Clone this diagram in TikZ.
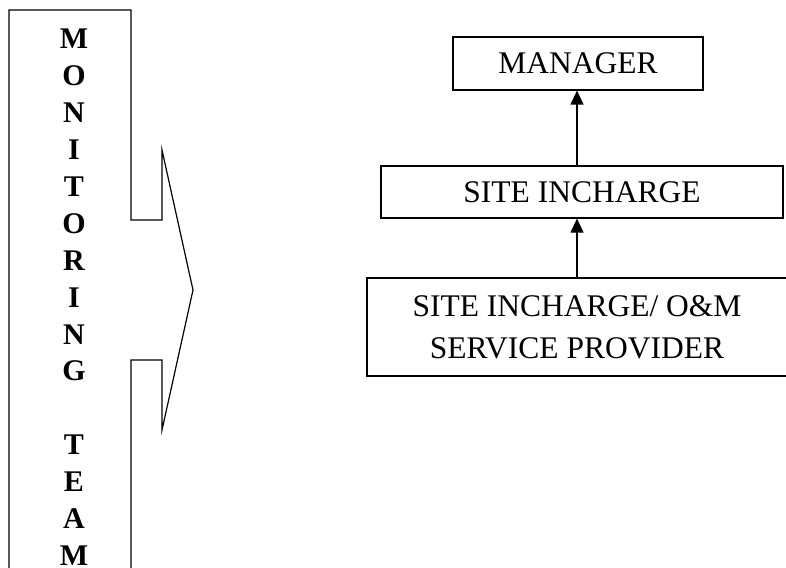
\documentclass[tikz,border=0pt]{standalone}
\usepackage{fontspec}
\setmainfont{Liberation Serif}
\usetikzlibrary{arrows.meta,positioning}

\begin{document}
\begin{tikzpicture}[x=0.5pt, y=-0.5pt, line width=0.6pt,
    box/.style={draw, inner sep=0pt, align=center, font=\fontsize{15.75}{21}\selectfont},
    letter/.style={inner sep=0pt, font=\fontsize{15}{18}\selectfont\bfseries},
    up/.style={-{Triangle[width=6.5pt,length=7pt]}}]
    \useasboundingbox (0,0) rectangle (786,567);
    \clip (0,0) rectangle (786,567);
    % team column with the notched arrow
    \draw (9,590) -- (9,10) -- (131,10) -- (131,220) -- (162,220) -- (162,150)
        -- (193,290) -- (162,430) -- (162,360) -- (131,360) -- (131,590);
    \foreach \i/\ch in {0/M,1/O,2/N,3/I,4/T,5/O,6/R,7/I,8/N,9/G,11/T,12/E,13/A,14/M}
        \node[letter] (l\i) at (74,{39+36.9*\i}) {\ch};
    % reporting chain
    \node[box, minimum width=125pt, minimum height=26.5pt] (mgr) at (578,63.5) {MANAGER};
    \node[box, minimum width=201pt, minimum height=26pt] (si) at (582,192) {SITE INCHARGE};
    \node[box, minimum width=210pt, minimum height=49pt] (sp) at (577,327) {SITE INCHARGE/ O\&M\\SERVICE PROVIDER};
    \draw[up] (sp.north) -- (sp.north |- si.south);
    \draw[up] (sp.north |- si.north) -- (sp.north |- mgr.south);
\end{tikzpicture}
\end{document}
